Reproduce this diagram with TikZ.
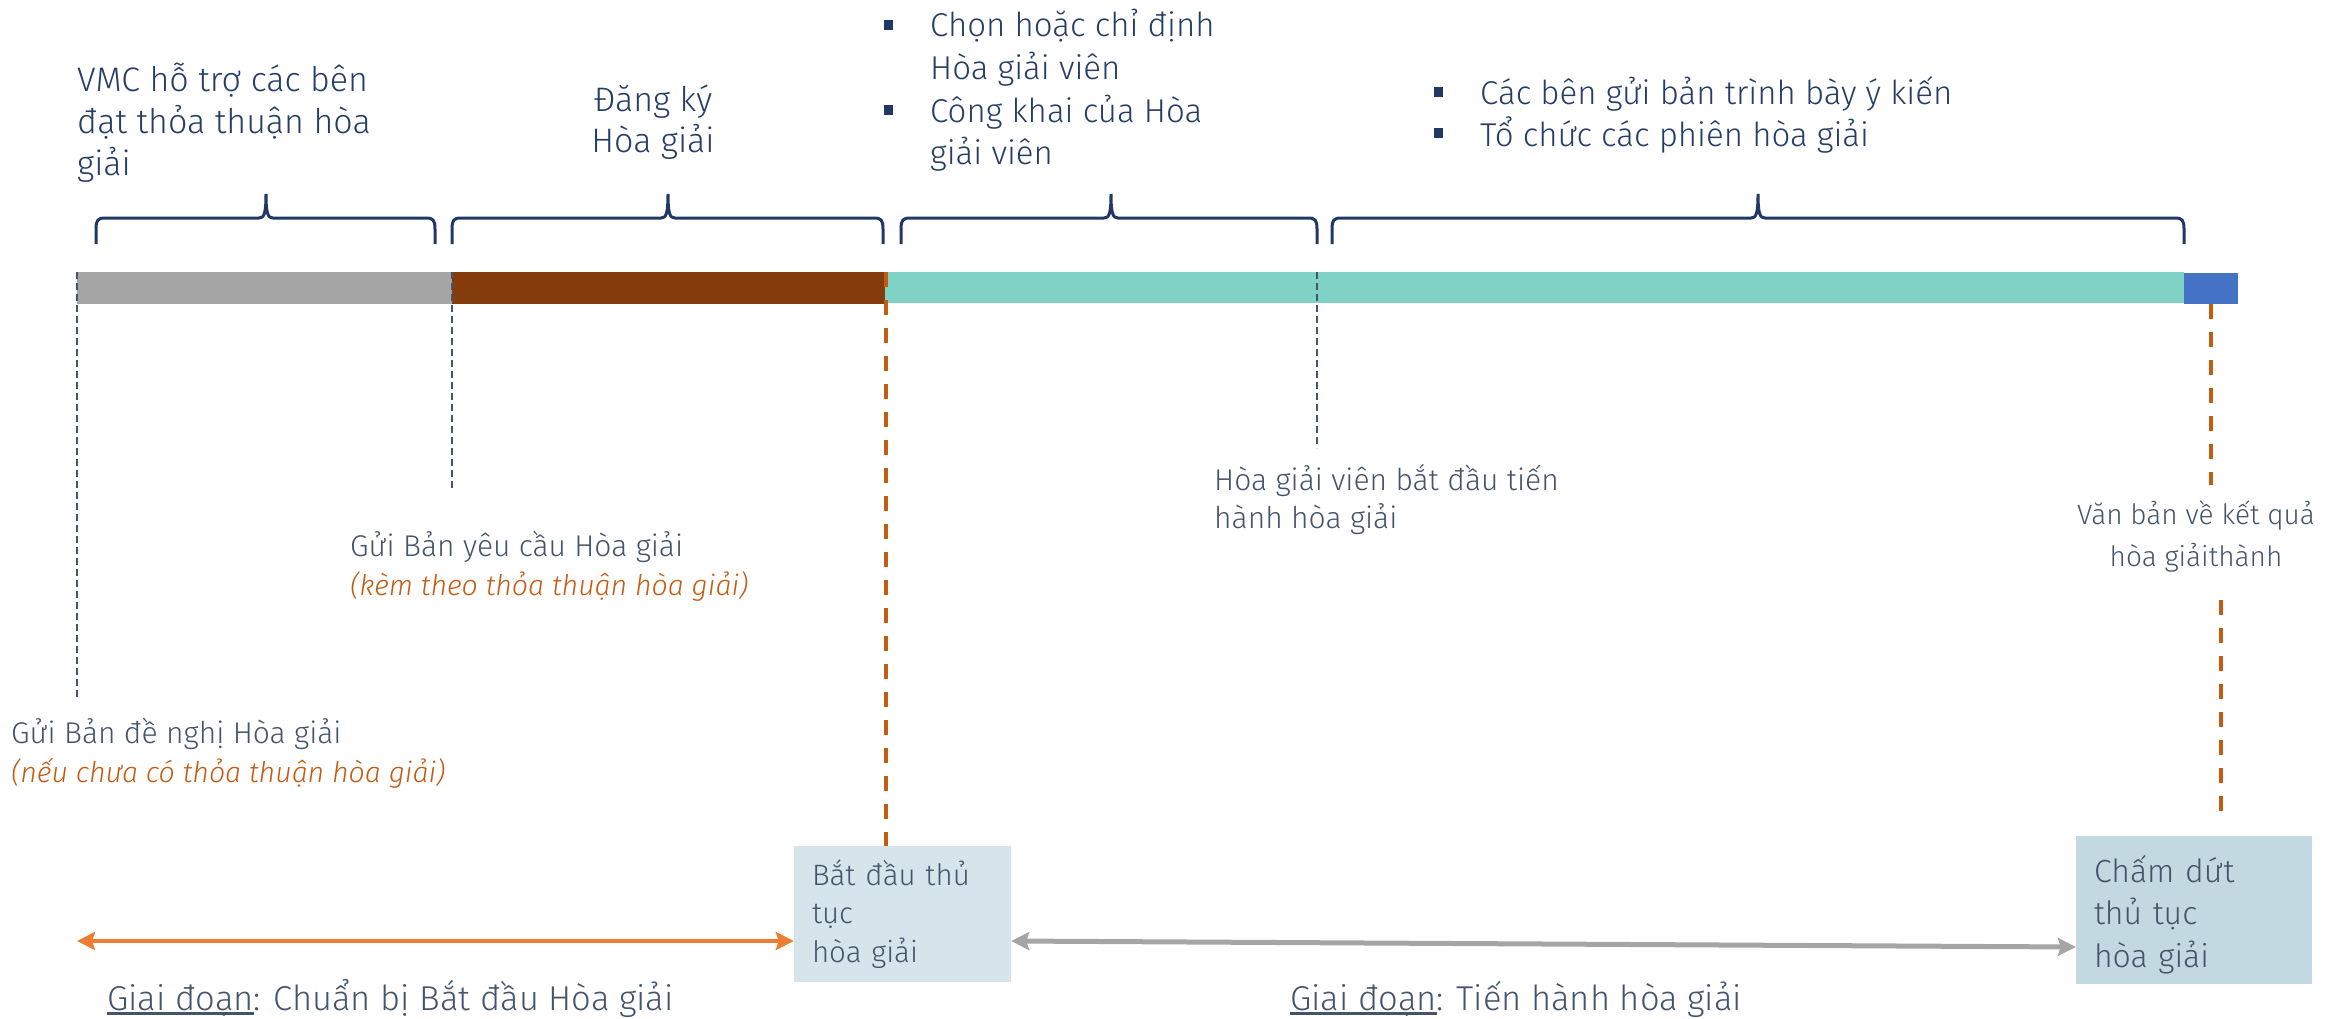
\documentclass[tikz,border=0pt]{standalone}
\usepackage{fontspec}
\setmainfont{Fira Sans}[UprightFont=* Light, ItalicFont=* Light Italic]
\usetikzlibrary{arrows.meta}
\definecolor{navytext}{HTML}{263D66}
\definecolor{navy}{HTML}{1F3864}
\definecolor{slate}{HTML}{44546A}
\definecolor{corange}{HTML}{C55A11}
\definecolor{aorange}{HTML}{ED7D31}
\definecolor{cgray}{HTML}{A5A5A5}
\definecolor{cbrown}{HTML}{843C0C}
\definecolor{cteal}{HTML}{7FD2C4}
\definecolor{cblue}{HTML}{4472C4}
\definecolor{boxa}{HTML}{D6E5EC}
\definecolor{boxb}{HTML}{C3D9E1}
\newcommand\myfs[2]{\fontsize{#1}{#2}\selectfont}
\newcommand\myul[1]{\setbox0\hbox{#1}\rlap{\rule[-4.5pt]{\wd0}{2.5pt}}\box0}
\newcommand\mybrace[3]{%
  \draw[bracestyle] (#1,244) -- (#1,229) .. controls (#1,220) and ({#1+2},218) .. ({#1+9},218)
    -- ({#3-7},218) .. controls ({#3-2},218) and (#3,214) .. (#3,194)
    .. controls (#3,214) and ({#3+2},218) .. ({#3+7},218)
    -- ({#2-9},218) .. controls ({#2-2},218) and (#2,220) .. (#2,229) -- (#2,244);}
\begin{document}
\begin{tikzpicture}[x=1pt,y=-1pt,
  txt/.style={inner sep=0pt, anchor=base west, align=left, text=slate},
  bracestyle/.style={draw=navy, line width=3pt},
  bul/.style={fill=navy, minimum width=9pt, minimum height=10pt, inner sep=0pt},
  thindash/.style={draw=slate, line width=1.4pt, dash pattern=on 7pt off 4pt},
  odash/.style={draw=corange, line width=4.5pt, dash pattern=on 15pt off 13pt},
  stagebox/.style={inner xsep=18pt, inner ysep=0pt, align=left, anchor=center, text=slate},
  dblarrow/.style={{Stealth[length=18pt,width=18pt,inset=3pt]}-{Stealth[length=18pt,width=18pt,inset=3pt]}}
]
\useasboundingbox (0,0) rectangle (2325,1019);

% timeline bar
\fill[cgray] (77,272) rectangle (452,304);
\fill[cbrown] (452,272) rectangle (885,304);
\fill[cteal] (885,272) rectangle (2184,303);
\fill[cblue] (2184,273) rectangle (2238,304);

% braces
\mybrace{96}{435}{266}
\mybrace{452}{883}{668}
\mybrace{901}{1317}{1111}
\mybrace{1332}{2184}{1758}

% top texts (node base = baseline of last line)
\node[txt, text=navytext, font=\myfs{34}{42}] (vmc) at (77,176) {VMC hỗ trợ các bên\\đạt thỏa thuận hòa\\giải};
\node[txt, text=navytext, font=\myfs{34}{41}, anchor=base, align=center] (dky) at (653,153) {Đăng ký\\Hòa giải};
\node[bul] (bu1) at (888,25) {};
\node[bul] (bu2) at (888,110) {};
\node[txt, text=navytext, font=\myfs{33}{42.7}] (chon) at (930,165) {Chọn hoặc chỉ định\\Hòa giải viên\\Công khai của Hòa\\giải viên};
\node[bul] (bu3) at (1438,92) {};
\node[bul] (bu4) at (1438,133) {};
\node[txt, text=navytext, font=\myfs{33}{42}] (cacben) at (1480,147) {Các bên gửi bản trình bày ý kiến\\Tổ chức các phiên hòa giải};

% anchor points on the bar
\coordinate (p1) at (77,272);
\coordinate (p2) at (452,272);
\coordinate (p3) at (1317,272);
\coordinate (p4) at (886,272);
\coordinate (p5) at (2211,304);
\coordinate (e1) at (77,698);
\coordinate (e2) at (452,488);
\coordinate (e3) at (1317,448);
\coordinate (e5) at (2211,485);
\coordinate (s6) at (2221,600);
\coordinate (e6) at (2221,812);

% labels
\node[txt, font=\myfs{30}{39}] (l1) at (11,782) {Gửi Bản đề nghị Hòa giải\\{\fontsize{28.5}{39}\selectfont\itshape\color{corange}(nếu chưa có thỏa thuận hòa giải)}};
\node[txt, font=\myfs{30}{39}] (l2) at (350,595) {Gửi Bản yêu cầu Hòa giải\\{\fontsize{28.5}{39}\selectfont\itshape\color{corange}(kèm theo thỏa thuận hòa giải)}};
\node[txt, font=\myfs{30}{38}] (l3) at (1214,528) {Hòa giải viên bắt đầu tiến\\hành hòa giải};
\node[txt, font=\myfs{28}{42}, anchor=base, align=center] (l4) at (2196,566) {Văn bản về kết quả\\hòa giảithành};

% stage boxes
\node[stagebox, fill=boxa, minimum width=217pt, minimum height=136pt, text width=181pt, font=\myfs{29.5}{38.5}] (b1) at (902.5,914) {Bắt đầu thủ\\tục\\hòa giải};
\node[stagebox, fill=boxb, minimum width=236pt, minimum height=148pt, text width=200pt, font=\myfs{32}{42.5}] (b2) at (2194,910) {\rule{0pt}{36pt}Chấm dứt\\thủ tục\\hòa giải};

% dashed connectors
\draw[thindash] (p1) -- (e1);
\draw[thindash] (p2) -- (e2);
\draw[thindash] (p3) -- (e3);
\draw[odash] (p4) -- (p4 |- b1.north);
\draw[odash] (p5) -- (e5);
\draw[odash] (s6) -- (e6);

% phase arrows
\coordinate (a0) at (77,941);
\draw[dblarrow, draw=aorange, fill=aorange, line width=4pt] (a0) -- (b1.west |- a0);
\draw[dblarrow, draw=cgray, fill=cgray, line width=5pt] ([yshift=-27pt]b1.east) -- ([yshift=-37pt]b2.west);

% phase labels
\node[txt, font=\myfs{34.5}{40}] (ph1) at (107,1010) {\myul{Giai đoạn}: Chuẩn bị Bắt đầu Hòa giải};
\node[txt, font=\myfs{34.5}{40}] (ph2) at (1290,1010) {\myul{Giai đoạn}: Tiến hành hòa giải};
\end{tikzpicture}
\end{document}
